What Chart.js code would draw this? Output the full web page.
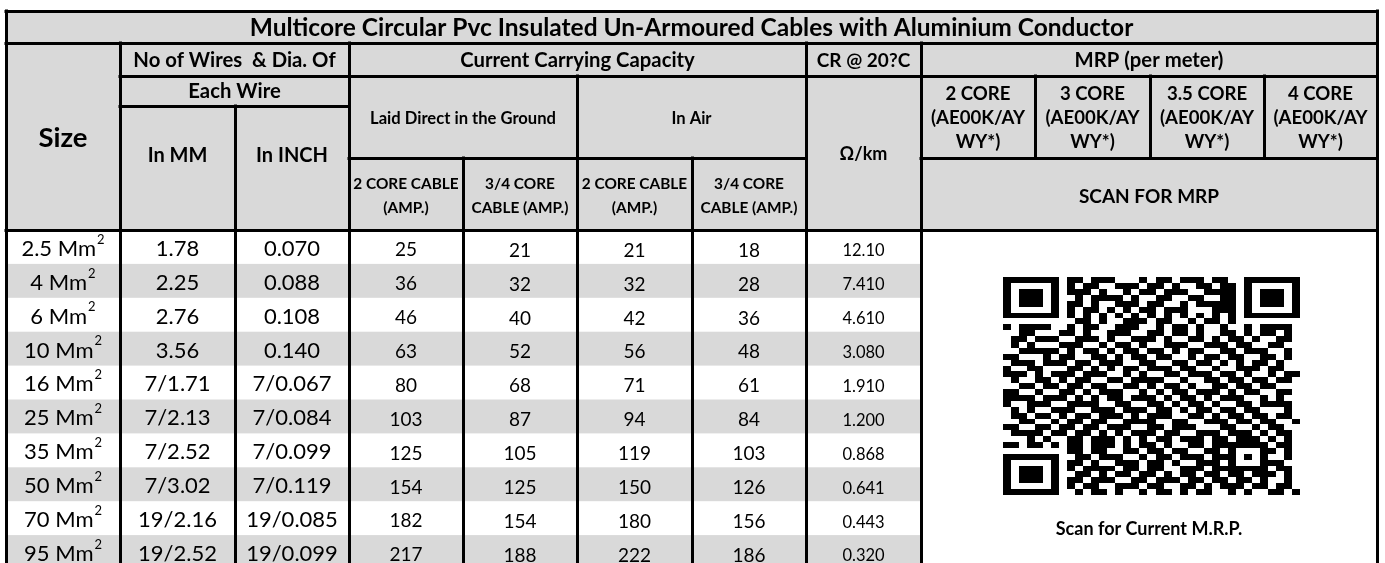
<!DOCTYPE html>
<html>
<head>
<meta charset="utf-8">
<title>Multicore Circular Pvc Insulated Un-Armoured Cables</title>
<script src="https://cdn.jsdelivr.net/npm/chart.js@4.4.1/dist/chart.umd.min.js"></script>
<style>
    html, body { margin: 0; padding: 0; background: #fff; }
    #wrap { width: 1385px; height: 563px; }
</style>
</head>
<body>
<div id="wrap"><canvas id="cableChart"></canvas></div>
<script>
// ---- table values ----
var sizes = ['2.5', '4', '6', '10', '16', '25', '35', '50', '70', '95'];
var wiresMM = ['1.78', '2.25', '2.76', '3.56', '7/1.71', '7/2.13', '7/2.52', '7/3.02', '19/2.16', '19/2.52'];
var wiresInch = ['0.070', '0.088', '0.108', '0.140', '7/0.067', '7/0.084', '7/0.099', '7/0.119', '19/0.085', '19/0.099'];
var groundTwoCore = [25, 36, 46, 63, 80, 103, 125, 154, 182, 217];
var groundFourCore = [21, 32, 40, 52, 68, 87, 105, 125, 154, 188];
var airTwoCore = [21, 32, 42, 56, 71, 94, 119, 150, 180, 222];
var airFourCore = [18, 28, 36, 48, 61, 84, 103, 126, 156, 186];
var resistance = ['12.10', '7.410', '4.610', '3.080', '1.910', '1.200', '0.868', '0.641', '0.443', '0.320'];
var mrpCores = ['2 CORE', '3 CORE', '3.5 CORE', '4 CORE'];

// QR modules (1 = black), 37 x 37
var qrRows = [
    '1111111 0 110111000101101110110 0 1111111',
    '1000001 0 101100111011010011011 0 1000001',
    '1011101 0 111010010110111001111 0 1011101',
    '1011101 0 010111101001100110011 0 1011101',
    '1011101 0 110100111011001011111 0 1011101',
    '1000001 0 101101010110111000111 0 1000001',
    '1111111 0 101010101010101010101 0 1111111',
    '00000000 011010011101100101101 00000000',
    '101111001 0110011100101101001 001011110',
    '001100 0 1101001110 0110110100 1101011010',
    '011011 1 0011101001 1101001101 0110100110',
    '010100 0 1110010110 1001110011 1011001100',
    '001111 1 0101101011 0110101100 1101110010',
    '110001 0 1100110101 1011001011 0110011010',
    '011101 1 1011011100 1100110110 1010110100',
    '100110 0 0110101011 0111011001 0011101100',
    '111010 1 1101110010 1001101110 1101001011',
    '010011 0 1011001101 1110010011 0110110110',
    '001101 1 0110110011 0101101001 1011011000',
    '110010 0 1101011100 1010110111 0101100110',
    '111101 1 1010101101 1101011010 1110010100',
    '100111 0 0111100110 0110101101 0011011110',
    '010100 1 1100111011 1011010110 1101100010',
    '011011 0 1011011101 0111001101 0110110110',
    '001100 1 0110110011 1100110011 1011011001',
    '110011 0 1101101110 0110111000 1100101100',
    '011110 1 1011010101 1101100111 0111010110',
    '000101 0 0110111010 1011011101 1011101010',
    '110110 1 011011101011010011011 11111 0110',
    '00000000 11011001101101100110 10001 1010',
    '1111111 0 01101110010110111011 10101 0010',
    '1000001 0 11010011101101001110 10001 1100',
    '1011101 0 10111101101100111011 11111 0110',
    '1011101 0 01101011011010110110 110111010',
    '1011101 0 11011100110111011011 011010010',
    '1000001 0 10110011101100110101 110110110',
    '1111111 0 01011010010110101100 101001101'
].map(function (r) { return (r.replace(/ /g, '') + '0000000000').slice(0, 37); });

// ---- layout ----
var FONT = 'Lato, "DejaVu Sans", sans-serif';
var rowPx = 33.9, tableTop = 230;
function hu(px) { return (px - tableTop) / rowPx; }   // header pixel row -> y units

var colEdges = [6, 120, 235, 349, 463, 577, 692, 806, 921, 1035, 1150, 1264, 1377];

var dataColumns = [
    { values: sizes, size: 22, dy: 1, sup: true },
    { values: wiresMM, size: 22, dy: 1 },
    { values: wiresInch, size: 22, dy: 1 },
    { values: groundTwoCore, size: 19, dy: 2.5 },
    { values: groundFourCore, size: 19, dy: 3 },
    { values: airTwoCore, size: 19, dy: 3 },
    { values: airFourCore, size: 19, dy: 3 },
    { values: resistance, size: 16.5, dy: 3.5 }
];

var headerLabels = [
    { lines: ['Multicore Circular Pvc Insulated Un-Armoured Cables with Aluminium Conductor'], x1: 6, x2: 1377, y: 27, size: 24.5 },
    { lines: ['Size'], x1: 6, x2: 120, y: 137, size: 27.5 },
    { lines: ['No of Wires  & Dia. Of'], x1: 120, x2: 349, y: 60, size: 20.3 },
    { lines: ['Each Wire'], x1: 120, x2: 349, y: 91, size: 20.3 },
    { lines: ['In MM'], x1: 120, x2: 235, y: 155, size: 20 },
    { lines: ['In INCH'], x1: 235, x2: 349, y: 155, size: 20 },
    { lines: ['Current Carrying Capacity'], x1: 349, x2: 806, y: 60, size: 20.3 },
    { lines: ['CR @ 20?C'], x1: 806, x2: 921, y: 60, size: 19 },
    { lines: ['MRP (per meter)'], x1: 921, x2: 1377, y: 60, size: 20.3 },
    { lines: ['Laid Direct in the Ground'], x1: 349, x2: 577, y: 118, size: 16.6 },
    { lines: ['In Air'], x1: 577, x2: 806, y: 118, size: 16.6 },
    { lines: ['\u03A9/km'], x1: 806, x2: 921, y: 154, size: 18 },
    { lines: ['2 CORE CABLE', '(AMP.)'], x1: 349, x2: 463, y: 183, gap: 24, size: 15.4 },
    { lines: ['3/4 CORE', 'CABLE (AMP.)'], x1: 463, x2: 577, y: 183, gap: 24, size: 15.4 },
    { lines: ['2 CORE CABLE', '(AMP.)'], x1: 577, x2: 692, y: 183, gap: 24, size: 15.4 },
    { lines: ['3/4 CORE', 'CABLE (AMP.)'], x1: 692, x2: 806, y: 183, gap: 24, size: 15.4 },
    { lines: ['SCAN FOR MRP'], x1: 921, x2: 1377, y: 196, size: 19 },
    { lines: ['Scan for Current M.R.P.'], x1: 921, x2: 1377, y: 529, size: 18 }
];
mrpCores.forEach(function (c, k) {
    headerLabels.push({ lines: [c, '(AE00K/AY', 'WY*)'], x1: colEdges[8 + k], x2: colEdges[9 + k], y: 93.5, gap: 24, size: 18.6 });
});

// [y, x1, x2] and [x, y1, y2], header pixels
var hLines = [[11, 6, 1377], [43, 6, 1377], [76, 120, 1377], [106, 120, 349], [158, 349, 806], [158, 921, 1377], [230, 6, 1377]];
var vLines = [[6, 11, 563], [1377, 11, 563], [120, 43, 563], [235, 106, 563], [349, 43, 563], [463, 158, 563],
    [577, 76, 563], [692, 158, 563], [806, 43, 563], [921, 43, 563], [1035, 76, 158], [1150, 76, 158], [1264, 76, 158]];
var qrBox = { x1: 1003, x2: 1300, y1: 277.3, y2: 495 };

function capText(ctx, text, x, yMid, size, weight) {
    ctx.font = weight + ' ' + size + 'px ' + FONT;
    ctx.fillText(text, x, yMid + size * 0.358);
}

var tablePlugin = {
    id: 'cableTable',
    beforeDatasetsDraw: function (chart) {
        var ctx = chart.ctx, xs = chart.scales.x, ys = chart.scales.y;
        var X = function (v) { return xs.getPixelForValue(v); };
        var Y = function (v) { return ys.getPixelForValue(v); };
        ctx.save();
        ctx.fillStyle = '#d9d9d9';
        ctx.fillRect(X(6), Y(hu(11)), X(1377) - X(6), Y(0) - Y(hu(11)));
        sizes.forEach(function (s, i) {
            if (i % 2 === 1) {
                ctx.fillRect(X(colEdges[0]), Y(i), X(colEdges[8]) - X(colEdges[0]), Y(i + 1) - Y(i));
            }
        });

        // QR code
        ctx.fillStyle = '#000';
        var mw = (qrBox.x2 - qrBox.x1) / 37, mh = (qrBox.y2 - qrBox.y1) / 37;
        qrRows.forEach(function (row, r) {
            for (var c = 0; c < 37; c++) {
                if (row[c] !== '1') continue;
                var a = Math.round(X(qrBox.x1 + c * mw)), b = Math.round(X(qrBox.x1 + (c + 1) * mw));
                var t = Math.round(Y(hu(qrBox.y1 + r * mh))), u = Math.round(Y(hu(qrBox.y1 + (r + 1) * mh)));
                ctx.fillRect(a, t, b - a, u - t);
            }
        });
        ctx.restore();
    },
    afterDatasetsDraw: function (chart) {
        var ctx = chart.ctx, xs = chart.scales.x, ys = chart.scales.y;
        var X = function (v) { return xs.getPixelForValue(v); };
        var Y = function (v) { return ys.getPixelForValue(v); };
        ctx.save();
        ctx.fillStyle = '#000';
        ctx.textAlign = 'center';
        ctx.textBaseline = 'alphabetic';

        // header text
        headerLabels.forEach(function (h) {
            var cx = (X(h.x1) + X(h.x2)) / 2;
            h.lines.forEach(function (line, k) {
                capText(ctx, line, cx, Y(hu(h.y + k * (h.gap || 0))), h.size, 'bold');
            });
        });

        // body text
        dataColumns.forEach(function (col, d) {
            var meta = chart.getDatasetMeta(d);
            meta.data.forEach(function (el, i) {
                var text = String(col.values[i]);
                var y = el.y + col.dy;
                if (col.sup) {
                    ctx.font = 'normal ' + col.size + 'px ' + FONT;
                    var main = text + ' Mm';
                    var w1 = ctx.measureText(main).width;
                    ctx.font = 'normal 13px ' + FONT;
                    var w2 = ctx.measureText('2').width;
                    var left = el.x - (w1 + w2 + 1) / 2;
                    ctx.textAlign = 'left';
                    capText(ctx, main, left, y, col.size, 'normal');
                    capText(ctx, '2', left + w1 + 1, y - 9, 13, 'normal');
                    ctx.textAlign = 'center';
                } else {
                    capText(ctx, text, el.x, y, col.size, 'normal');
                }
            });
        });

        // grid lines
        ctx.strokeStyle = '#000';
        ctx.lineWidth = 3;
        ctx.lineCap = 'square';
        ctx.beginPath();
        hLines.forEach(function (l) {
            var y = Math.round(Y(hu(l[0]))) + 0.5;
            ctx.moveTo(X(l[1]), y);
            ctx.lineTo(X(l[2]), y);
        });
        vLines.forEach(function (l) {
            var x = Math.round(X(l[0])) + 0.5;
            ctx.moveTo(x, Y(hu(l[1])));
            ctx.lineTo(x, Y(hu(l[2])));
        });
        ctx.stroke();
        ctx.restore();
    }
};

var datasets = dataColumns.map(function (col, d) {
    var cx = (colEdges[d] + colEdges[d + 1]) / 2;
    return {
        label: 'col' + d,
        data: col.values.map(function (v, i) { return { x: cx, y: i + 0.5 }; }),
        pointRadius: 0,
        pointHoverRadius: 0,
        showLine: false
    };
});

new Chart(document.getElementById('cableChart').getContext('2d'), {
    type: 'scatter',
    data: { datasets: datasets },
    options: {
        responsive: true,
        maintainAspectRatio: false,
        animation: false,
        events: [],
        layout: { padding: 0 },
        plugins: { legend: { display: false }, tooltip: { enabled: false } },
        scales: {
            x: { type: 'linear', min: 0, max: 1385, display: false },
            y: { type: 'linear', min: hu(0), max: hu(563), reverse: true, display: false }
        }
    },
    plugins: [tablePlugin]
});
</script>
</body>
</html>
